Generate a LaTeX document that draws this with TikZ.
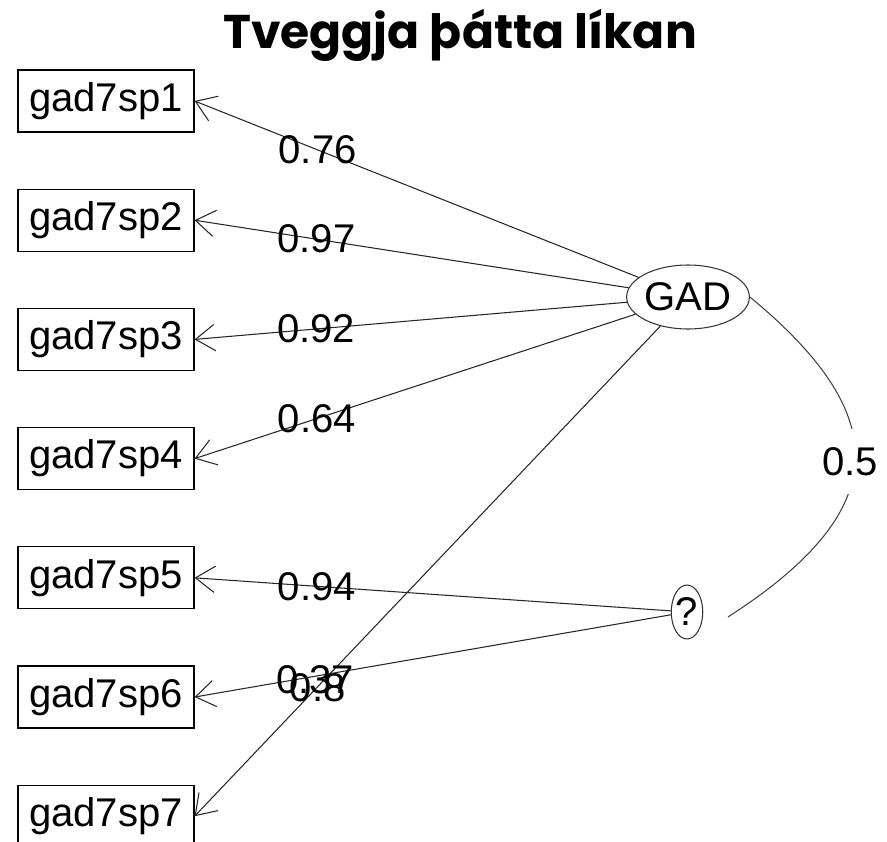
\documentclass[tikz,border=0pt]{standalone}
\usepackage{fontspec}
\setmainfont{Liberation Sans}
\newfontfamily\titlefont{Poppins}
\usetikzlibrary{arrows.meta}
\usetikzlibrary{shapes.geometric}
\usetikzlibrary{positioning}

\tikzset{
  item/.style={rectangle,draw=black,line width=0.7pt,minimum width=3.52cm,minimum height=1.24cm,inner sep=0pt,font=\fontsize{22.8}{27}\selectfont},
  latent/.style={ellipse,draw=black!80,line width=0.6pt,inner sep=0pt,font=\fontsize{22.8}{27}\selectfont},
  load/.style={draw=black!85,line width=0.6pt,-{Straight Barb[length=11pt,width=15pt]}},
  coef/.style={font=\fontsize{22.8}{27}\selectfont,inner sep=0pt}
}

\begin{document}
\begin{tikzpicture}[x=0.02cm,y=-0.02cm]
\useasboundingbox (0,0) rectangle (887,842);

\node[font=\titlefont\bfseries\fontsize{26.9}{31}\selectfont] (title) at (460,35) {Tveggja þátta líkan};

% observed items
\node[item] (s1) at (106,101) {gad7sp1};
\node[item,below=1.12cm of s1] (s2) {gad7sp2};
\node[item,below=1.12cm of s2] (s3) {gad7sp3};
\node[item,below=1.12cm of s3] (s4) {gad7sp4};
\node[item,below=1.12cm of s4] (s5) {gad7sp5};
\node[item,below=1.12cm of s5] (s6) {gad7sp6};
\node[item,below=1.12cm of s6] (s7) {gad7sp7};

% factors
\node[latent,minimum width=2.2cm,minimum height=1.28cm] (G) at (688,297) {GAD};
\node[latent,minimum width=0.56cm,minimum height=1.08cm] (Q) at (687,612) {?};
\coordinate (qr) at (728,617);

% loadings
\draw[load] (G) -- node[coef,pos=0.723] {0.76} (s1.east);
\draw[load] (G) -- node[coef,pos=0.719] {0.97} (s2.east);
\draw[load] (G) -- node[coef,pos=0.719] {0.92} (s3.east);
\draw[load] (G) -- node[coef,pos=0.723] {0.64} (s4.east);
\draw[load] (G) -- node[coef,pos=0.73,xshift=-1.5pt,yshift=-2.3pt] {0.8} (s7.east);
\draw[load] (Q) -- node[coef,pos=0.743] {0.94} (s5.east);
\draw[load] (Q) -- node[coef,pos=0.747,yshift=-2pt] {0.37} (s6.east);

% factor correlation
\draw[draw=black!75,line width=0.6pt] (G.east) .. controls (894,416) and (894,510) .. node[coef,fill=white,inner xsep=1pt,inner ysep=0.36cm,pos=0.5,xshift=-3pt] {0.5} (qr);

\end{tikzpicture}
\end{document}
